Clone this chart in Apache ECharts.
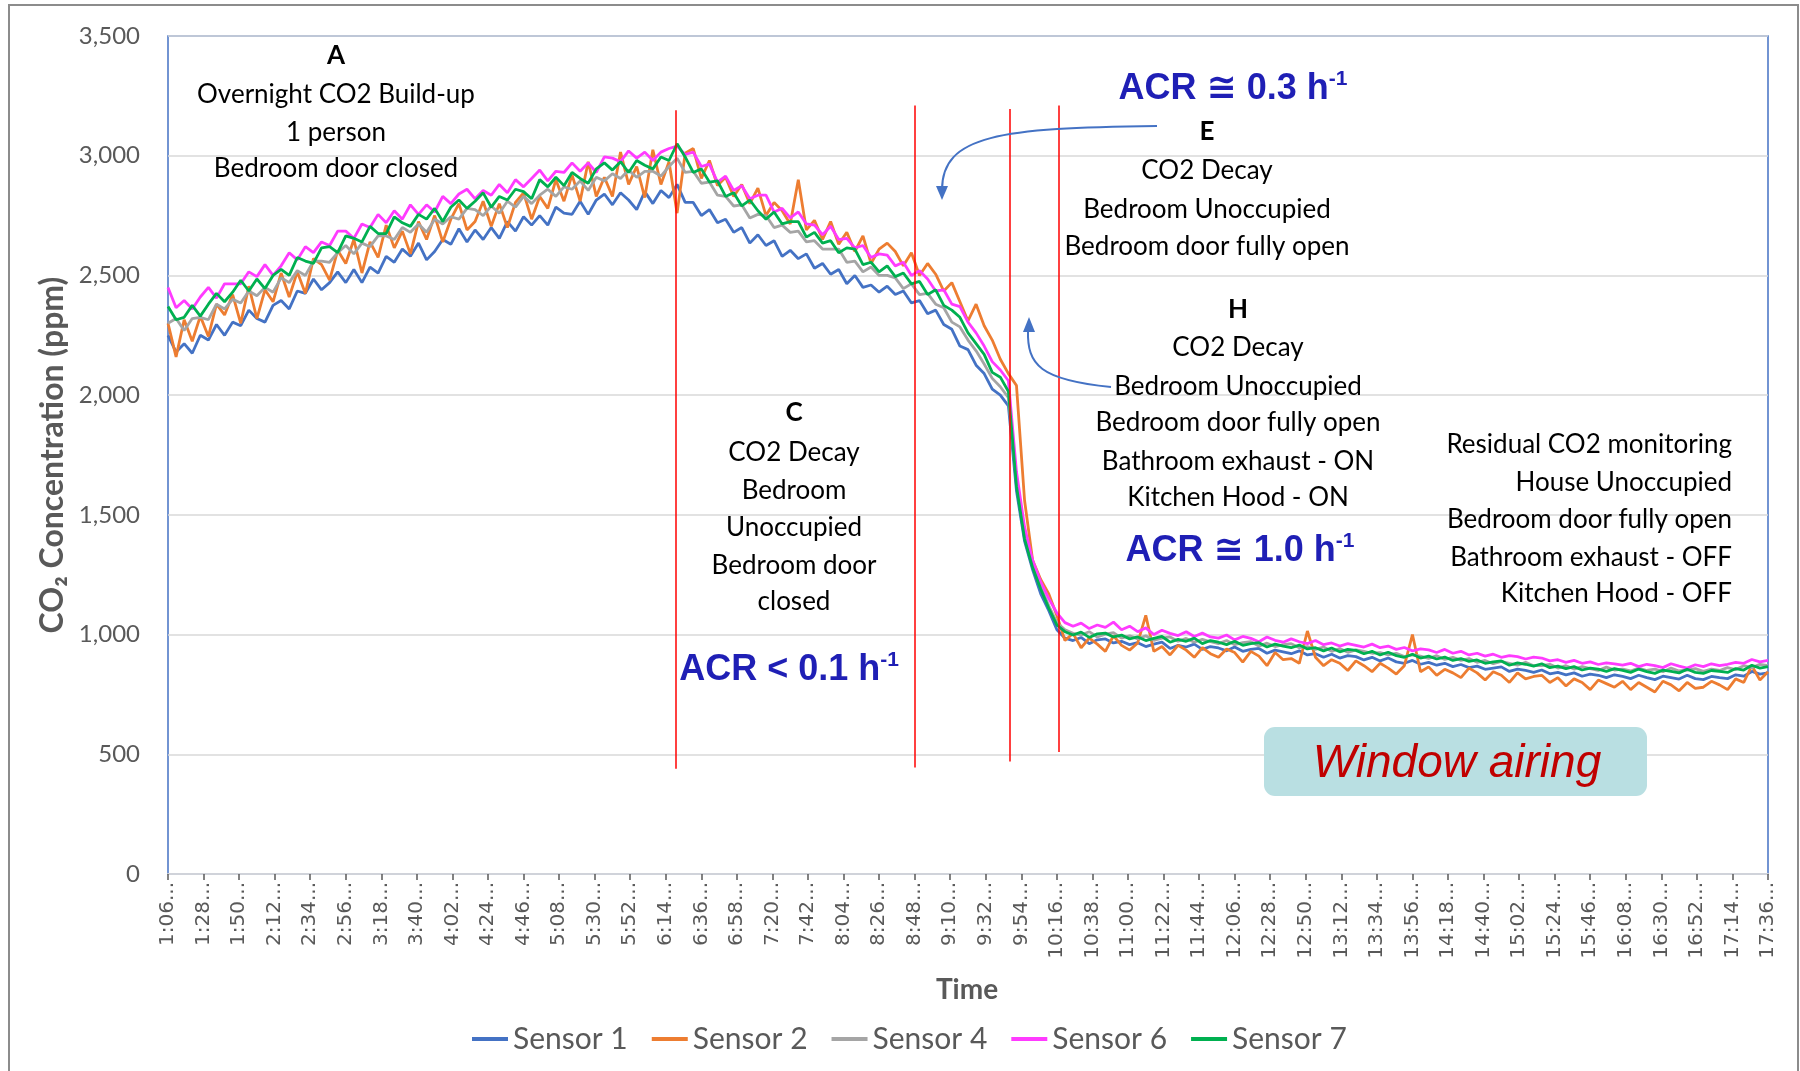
<!DOCTYPE html>
<html>
<head>
<meta charset="utf-8">
<script src="https://cdn.jsdelivr.net/npm/echarts@6/dist/echarts.min.js"></script>
<style>
  html, body { margin: 0; padding: 0; background: #fff; }
  #chart { width: 1800px; height: 1071px; }
</style>
</head>
<body>
<div id="chart"></div>
<script>
// sample times, minutes after midnight (1:06 .. 17:36, every 5 min)
var times = [];
for (var t = 66; t <= 1056; t += 5) times.push(t);

var seriesNames = ['Sensor 1', 'Sensor 2', 'Sensor 4', 'Sensor 6', 'Sensor 7'];
var seriesColors = ['#4472C4', '#ED7D31', '#A5A5A5', '#FF3BFF', '#00B050'];

var xTickLabels = ['1:06...','1:28...','1:50...','2:12...','2:34...','2:56...','3:18...','3:40...',
  '4:02...','4:24...','4:46...','5:08...','5:30...','5:52...','6:14...','6:36...','6:58...','7:20...',
  '7:42...','8:04...','8:26...','8:48...','9:10...','9:32...','9:54...','10:16...','10:38...','11:00...',
  '11:22...','11:44...','12:06...','12:28...','12:50...','13:12...','13:34...','13:56...','14:18...',
  '14:40...','15:02...','15:24...','15:46...','16:08...','16:30...','16:52...','17:14...','17:36...'];
var yTickLabels = ['0', '500', '1,000', '1,500', '2,000', '2,500', '3,000', '3,500'];

// CO2 ppm
var sensor1 = [
  2250, 2180, 2215, 2175, 2250, 2230, 2295, 2250, 2305, 2290,
  2355, 2320, 2305, 2375, 2395, 2360, 2435, 2425, 2485, 2440,
  2470, 2515, 2470, 2525, 2470, 2535, 2510, 2580, 2555, 2610,
  2580, 2635, 2565, 2600, 2650, 2630, 2695, 2640, 2690, 2650,
  2700, 2655, 2725, 2685, 2745, 2710, 2750, 2710, 2785, 2760,
  2755, 2810, 2755, 2815, 2840, 2795, 2845, 2815, 2775, 2850,
  2800, 2855, 2825, 2880, 2805, 2805, 2750, 2775, 2720, 2735,
  2680, 2700, 2635, 2670, 2625, 2645, 2580, 2605, 2570, 2590,
  2530, 2550, 2505, 2525, 2465, 2500, 2450, 2460, 2430, 2455,
  2420, 2435, 2385, 2395, 2340, 2355, 2295, 2275, 2205, 2190,
  2125, 2090, 2025, 2000, 1955, 1600, 1390, 1270, 1170, 1100,
  1020, 985, 975, 988, 962, 978, 982, 965, 972, 958,
  966, 950, 960, 968, 942, 955, 948, 960, 938, 950,
  944, 932, 948, 930, 938, 942, 922, 935, 928, 920,
  932, 915, 920, 905, 918, 902, 912, 908, 894, 905,
  890, 902, 886, 880, 892, 876, 884, 872, 880, 866,
  875, 862, 868, 855, 860, 865, 846, 856, 850, 842,
  852, 836, 842, 832, 840, 826, 835, 830, 820, 832,
  825, 816, 830, 820, 812, 826, 820, 814, 830, 816,
  812, 825, 820, 816, 832, 826, 846, 835, 840
];
var sensor2 = [
  2300, 2160, 2315, 2225, 2330, 2245, 2380, 2335, 2420, 2300,
  2455, 2320, 2440, 2390, 2510, 2410, 2515, 2425, 2570, 2545,
  2480, 2605, 2550, 2650, 2510, 2640, 2575, 2710, 2615, 2685,
  2590, 2725, 2650, 2750, 2640, 2735, 2800, 2690, 2725, 2810,
  2705, 2800, 2700, 2805, 2845, 2735, 2830, 2780, 2900, 2810,
  2920, 2810, 2975, 2830, 2910, 2830, 3015, 2880, 2955, 2825,
  3025, 2880, 2975, 2760, 3010, 3030, 2905, 2980, 2875, 2910,
  2830, 2880, 2800, 2865, 2750, 2805, 2770, 2715, 2900, 2690,
  2730, 2650, 2725, 2630, 2680, 2600, 2665, 2550, 2610, 2635,
  2600, 2540, 2595, 2500, 2550, 2505, 2435, 2470, 2390, 2310,
  2380, 2290, 2230, 2150, 2090, 2040, 1560, 1310, 1230, 1170,
  1080, 975, 1005, 945, 985, 960, 930, 995, 955, 935,
  965, 1080, 930, 950, 915, 955, 935, 905, 945, 920,
  905, 940, 925, 885, 930, 910, 870, 925, 895, 900,
  880, 1015, 905, 870, 895, 880, 850, 890, 870, 845,
  880, 860, 835, 870, 1000, 845, 865, 830, 855, 840,
  820, 860, 840, 810, 845, 830, 800, 840, 815, 825,
  830, 800, 820, 785, 815, 800, 770, 810, 795, 780,
  805, 770, 800, 780, 760, 805, 790, 765, 800, 775,
  780, 805, 790, 770, 815, 800, 870, 810, 845
];
var sensor4 = [
  2300, 2320, 2270, 2320, 2325, 2315, 2380, 2360, 2400, 2385,
  2435, 2415, 2450, 2430, 2490, 2470, 2520, 2500, 2560, 2560,
  2555, 2595, 2625, 2590, 2635, 2620, 2665, 2665, 2650, 2700,
  2680, 2715, 2680, 2735, 2715, 2745, 2735, 2780, 2775, 2750,
  2790, 2760, 2810, 2785, 2830, 2800, 2835, 2860, 2830, 2870,
  2860, 2895, 2855, 2910, 2895, 2925, 2905, 2940, 2910, 2935,
  2935, 2915, 2955, 2990, 2930, 2935, 2885, 2890, 2835, 2830,
  2790, 2795, 2740, 2755, 2750, 2700, 2710, 2680, 2685, 2640,
  2645, 2610, 2610, 2610, 2555, 2560, 2515, 2535, 2500, 2500,
  2490, 2445, 2465, 2420, 2425, 2380, 2365, 2305, 2285, 2230,
  2185, 2130, 2070, 2035, 1990, 1640, 1420, 1300, 1200, 1120,
  1050, 1020, 1005, 998, 1012, 990, 1002, 1008, 985, 995,
  982, 995, 976, 985, 990, 972, 984, 968, 980, 970,
  962, 975, 958, 966, 970, 952, 964, 950, 958, 962,
  945, 950, 938, 948, 930, 942, 926, 936, 930, 922,
  925, 915, 922, 908, 915, 910, 900, 912, 896, 905,
  892, 900, 884, 892, 878, 888, 880, 872, 884, 870,
  870, 876, 860, 870, 856, 866, 858, 850, 864, 852,
  856, 848, 860, 850, 856, 845, 860, 848, 852, 858,
  846, 856, 850, 862, 854, 870, 862, 876, 870
];
var sensor6 = [
  2450, 2365, 2395, 2360, 2410, 2450, 2405, 2465, 2465, 2465,
  2515, 2495, 2545, 2500, 2540, 2595, 2565, 2620, 2595, 2640,
  2625, 2685, 2685, 2655, 2715, 2700, 2755, 2720, 2770, 2735,
  2795, 2755, 2795, 2765, 2830, 2800, 2840, 2860, 2820, 2855,
  2835, 2880, 2845, 2900, 2870, 2905, 2940, 2895, 2935, 2930,
  2970, 2935, 2970, 2930, 2995, 2990, 2975, 3020, 2990, 3015,
  2980, 3015, 3030, 3040, 3005, 3015, 2955, 2965, 2890, 2915,
  2855, 2875, 2820, 2835, 2835, 2765, 2780, 2740, 2765, 2715,
  2710, 2670, 2705, 2650, 2655, 2615, 2625, 2575, 2590, 2585,
  2540, 2555, 2500, 2520, 2485, 2435, 2440, 2380, 2370, 2305,
  2260, 2205, 2140, 2105, 2060, 1680, 1450, 1310, 1220, 1150,
  1090, 1050, 1035, 1048, 1025, 1040, 1030, 1052, 1020, 1035,
  1012, 1028, 1000, 1018, 1005, 996, 1012, 992, 1006, 990,
  985, 998, 978, 992, 984, 970, 990, 976, 968, 982,
  970, 962, 975, 958, 965, 952, 962, 955, 948, 960,
  945, 952, 938, 946, 932, 940, 936, 925, 938, 922,
  930, 915, 922, 910, 918, 905, 912, 908, 898, 906,
  902, 890, 895, 884, 892, 880, 886, 875, 882, 878,
  872, 880, 866, 876, 870, 862, 878, 868, 860, 874,
  866, 878, 870, 876, 884, 880, 896, 886, 892
];
var sensor7 = [
  2370, 2315, 2325, 2375, 2330, 2380, 2425, 2390, 2430, 2480,
  2435, 2485, 2445, 2500, 2525, 2500, 2575, 2560, 2550, 2615,
  2620, 2595, 2665, 2655, 2640, 2705, 2675, 2675, 2745, 2720,
  2705, 2755, 2735, 2780, 2725, 2785, 2815, 2780, 2810, 2845,
  2785, 2830, 2815, 2860, 2850, 2820, 2900, 2870, 2910, 2875,
  2930, 2905, 2885, 2945, 2970, 2940, 2975, 2930, 2980, 2960,
  2945, 2995, 2980, 3050, 2995, 2930, 2945, 2890, 2895, 2830,
  2845, 2790, 2815, 2770, 2735, 2765, 2715, 2725, 2725, 2660,
  2680, 2635, 2645, 2595, 2615, 2610, 2545, 2555, 2515, 2540,
  2495, 2510, 2465, 2475, 2420, 2440, 2375, 2355, 2325, 2260,
  2215, 2170, 2095, 2075, 2015, 1620, 1400, 1280, 1190, 1110,
  1040, 1012, 998, 1010, 988, 1003, 1006, 990, 998, 982,
  990, 975, 984, 992, 968, 980, 972, 985, 962, 975,
  968, 958, 972, 955, 962, 966, 948, 960, 952, 945,
  956, 940, 945, 932, 944, 928, 938, 934, 920, 930,
  915, 926, 912, 905, 918, 902, 910, 898, 906, 892,
  900, 888, 894, 880, 886, 890, 872, 882, 876, 868,
  878, 862, 868, 858, 866, 852, 860, 856, 846, 858,
  850, 842, 856, 845, 838, 852, 846, 840, 855, 842,
  838, 850, 846, 842, 858, 852, 872, 860, 866
];
var seriesValues = [sensor1, sensor2, sensor4, sensor6, sensor7];

// red phase boundaries: time (min) and vertical extent (ppm)
var phaseTimes = [380, 528, 587, 617];
var phaseBottom = [440, 445, 470, 510];
var phaseTop = [3190, 3210, 3195, 3210];

var chart = echarts.init(document.getElementById('chart'));

var font = 'Lato';
var acrBlue = '#1F1FB5';

function txt(x, y, text, bold, align) {
  return {
    type: 'text', x: x, y: y, z: 100,
    style: {
      text: text, align: align || 'center', verticalAlign: 'middle',
      fontFamily: font, fontSize: 26, fontWeight: bold ? 'bold' : 'normal', fill: '#000'
    }
  };
}
function acr(x, y, main) {
  return {
    type: 'text', x: x, y: y, z: 100,
    style: {
      text: '{m|' + main + '}{s|-1}', align: 'center', verticalAlign: 'middle',
      rich: {
        m: { fontFamily: '"Liberation Sans", "DejaVu Sans", sans-serif', fontWeight: 'bold', fontSize: 36, fill: acrBlue, lineHeight: 40 },
        s: { fontFamily: '"Liberation Sans", sans-serif', fontWeight: 'bold', fontSize: 21, fill: acrBlue, verticalAlign: 'top', lineHeight: 40 }
      }
    }
  };
}

var graphics = [
  // outer frame
  { type: 'rect', z: 0, shape: { x: 9, y: 5, width: 1789, height: 1080 },
    style: { fill: null, stroke: '#8C8C8C', lineWidth: 2 } },
  // axis titles
  { type: 'text', x: 53, y: 455, rotation: Math.PI / 2, z: 100,
    style: { text: 'CO₂ Concentration (ppm)', align: 'center', verticalAlign: 'middle',
      fontFamily: font, fontWeight: 'bold', fontSize: 32, fill: '#595959' } },
  { type: 'text', x: 967, y: 990, z: 100,
    style: { text: 'Time', align: 'center', verticalAlign: 'middle',
      fontFamily: font, fontWeight: 'bold', fontSize: 28, fill: '#595959' } },
  // A
  txt(336, 56, 'A', true),
  txt(336, 95, 'Overnight CO2 Build-up'),
  txt(336, 133, '1 person'),
  txt(336, 169, 'Bedroom door closed'),
  // C
  txt(794, 413, 'C', true),
  txt(794, 453, 'CO2 Decay'),
  txt(794, 491, 'Bedroom'),
  txt(794, 528, 'Unoccupied'),
  txt(794, 566, 'Bedroom door'),
  txt(794, 602, 'closed'),
  acr(789, 670, 'ACR < 0.1 h'),
  // E
  acr(1233, 89, 'ACR ≅ 0.3 h'),
  txt(1207, 132, 'E', true),
  txt(1207, 171, 'CO2 Decay'),
  txt(1207, 210, 'Bedroom Unoccupied'),
  txt(1207, 247, 'Bedroom door fully open'),
  // H
  txt(1238, 310, 'H', true),
  txt(1238, 348, 'CO2 Decay'),
  txt(1238, 387, 'Bedroom Unoccupied'),
  txt(1238, 423, 'Bedroom door fully open'),
  txt(1238, 462, 'Bathroom exhaust - ON'),
  txt(1238, 498, 'Kitchen Hood - ON'),
  acr(1240, 551, 'ACR ≅ 1.0 h'),
  // residual block
  txt(1732, 445, 'Residual CO2 monitoring', false, 'right'),
  txt(1732, 483, 'House Unoccupied', false, 'right'),
  txt(1732, 520, 'Bedroom door fully open', false, 'right'),
  txt(1732, 558, 'Bathroom exhaust - OFF', false, 'right'),
  txt(1732, 594, 'Kitchen Hood - OFF', false, 'right'),
  // window airing box
  { type: 'rect', z: 90, shape: { x: 1264, y: 727, width: 383, height: 69, r: 11 },
    style: { fill: '#B9DFE2' } },
  { type: 'text', x: 1457, y: 764, z: 100,
    style: { text: 'Window airing', align: 'center', verticalAlign: 'middle',
      fontFamily: '"Liberation Sans", sans-serif', fontStyle: 'italic', fontSize: 46, fill: '#C00000' } },
  // arrows
  { type: 'bezierCurve', z: 100,
    shape: { x1: 1157, y1: 126, cpx1: 1000, cpy1: 128, cpx2: 942, cpy2: 135, x2: 942, y2: 190 },
    style: { stroke: '#4472C4', lineWidth: 2, fill: null } },
  { type: 'polygon', z: 100, shape: { points: [[936, 186], [948, 186], [942, 200]] },
    style: { fill: '#4472C4' } },
  { type: 'bezierCurve', z: 100,
    shape: { x1: 1111, y1: 387, cpx1: 1040, cpy1: 380, cpx2: 1027, cpy2: 365, x2: 1028, y2: 330 },
    style: { stroke: '#4472C4', lineWidth: 2, fill: null } },
  { type: 'polygon', z: 100, shape: { points: [[1023, 332], [1035, 332], [1029, 317]] },
    style: { fill: '#4472C4' } }
];

var series = seriesNames.map(function (name, k) {
  return {
    name: name,
    type: 'line',
    showSymbol: false,
    data: times.map(function (tm, i) { return [tm, seriesValues[k][i]]; }),
    lineStyle: { color: seriesColors[k], width: 2.8 },
    itemStyle: { color: seriesColors[k] }
  };
});
series.push({
  name: 'phases',
  type: 'line',
  data: [],
  z: 10,
  markLine: {
    silent: true,
    symbol: ['none', 'none'],
    label: { show: false },
    lineStyle: { color: '#FF0000', width: 1.5, type: 'solid' },
    data: phaseTimes.map(function (tm, i) {
      return [{ coord: [tm, phaseBottom[i]] }, { coord: [tm, phaseTop[i]] }];
    })
  }
});

chart.setOption({
  animation: false,
  backgroundColor: '#fff',
  grid: { left: 168, right: 32, top: 36, bottom: 197, show: true, borderColor: '#4472C4', borderWidth: 1.5 },
  legend: {
    data: seriesNames,
    left: 467, top: 1019,
    icon: 'rect', itemWidth: 36, itemHeight: 4, itemGap: 24,
    textStyle: { fontFamily: font, fontSize: 30, color: '#595959' }
  },
  xAxis: {
    type: 'value', min: 66, max: 1056, interval: 22,
    axisLine: { show: true, lineStyle: { color: '#D0D3DA', width: 2 } },
    axisTick: { show: true, length: 6, lineStyle: { color: '#595959', width: 1.5 } },
    splitLine: { show: false },
    axisLabel: {
      rotate: 90, margin: 8, showMinLabel: true, showMaxLabel: true,
      fontFamily: 'DejaVu Sans', fontSize: 20, color: '#595959',
      formatter: function (v) { return xTickLabels[Math.round((v - 66) / 22)] || ''; }
    }
  },
  yAxis: {
    type: 'value', min: 0, max: 3500, interval: 500,
    axisLine: { show: false },
    axisTick: { show: false },
    splitLine: { lineStyle: { color: '#D9D9D9', width: 1.5 } },
    axisLabel: {
      margin: 28, fontFamily: font, fontSize: 24, color: '#595959',
      formatter: function (v) { return yTickLabels[Math.round(v / 500)]; }
    }
  },
  graphic: graphics,
  series: series
});
</script>
</body>
</html>
